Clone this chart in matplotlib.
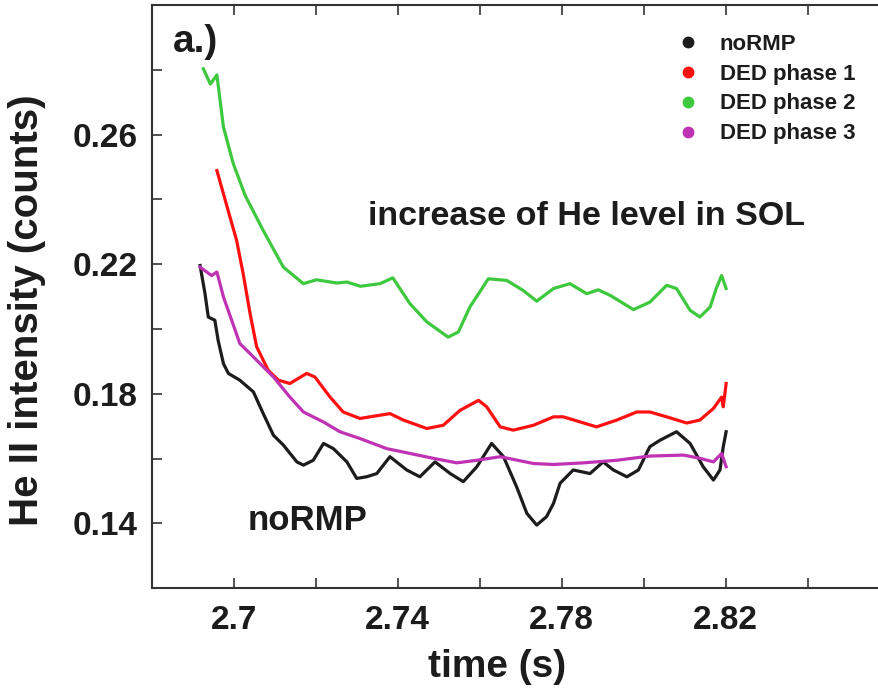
import matplotlib
matplotlib.use("Agg")
import matplotlib.pyplot as plt
from matplotlib.lines import Line2D

plt.rcParams['font.family'] = ['Liberation Sans', 'DejaVu Sans']
plt.rcParams['font.weight'] = 'bold'

# noRMP
t_normp = [2.6918, 2.6930, 2.6938, 2.6954, 2.6962, 2.6975, 2.6987, 2.7015, 2.7048, 2.7072,
           2.7097, 2.7121, 2.7154, 2.7170, 2.7194, 2.7219, 2.7243, 2.7276, 2.7300, 2.7324,
           2.7349, 2.7381, 2.7422, 2.7454, 2.7491, 2.7528, 2.7560, 2.7593, 2.7629, 2.7658,
           2.7690, 2.7715, 2.7739, 2.7763, 2.7780, 2.7796, 2.7828, 2.7869, 2.7901, 2.7926,
           2.7959, 2.7987, 2.8015, 2.8040, 2.8080, 2.8113, 2.8145, 2.8170, 2.8186, 2.8194,
           2.8201]
i_normp = [0.2196, 0.2109, 0.2037, 0.2027, 0.1965, 0.1893, 0.1863, 0.1842, 0.1806, 0.1739,
           0.1672, 0.1642, 0.1590, 0.1580, 0.1595, 0.1647, 0.1631, 0.1590, 0.1539, 0.1544,
           0.1554, 0.1606, 0.1565, 0.1544, 0.1590, 0.1554, 0.1529, 0.1575, 0.1647, 0.1606,
           0.1513, 0.1431, 0.1395, 0.1421, 0.1462, 0.1524, 0.1565, 0.1554, 0.1590, 0.1565,
           0.1544, 0.1565, 0.1637, 0.1657, 0.1683, 0.1647, 0.1575, 0.1534, 0.1565, 0.1637,
           0.1683]

# DED phase 1
t_ph1 = [2.6959, 2.6991, 2.7007, 2.7023, 2.7040, 2.7056, 2.7084, 2.7109, 2.7137, 2.7178,
         2.7198, 2.7235, 2.7267, 2.7308, 2.7381, 2.7414, 2.7471, 2.7511, 2.7552, 2.7597,
         2.7617, 2.7650, 2.7682, 2.7731, 2.7780, 2.7804, 2.7885, 2.7934, 2.7983, 2.8015,
         2.8056, 2.8105, 2.8137, 2.8170, 2.8190, 2.8194, 2.8201]
i_ph1 = [0.2489, 0.2345, 0.2274, 0.2171, 0.2047, 0.1945, 0.1873, 0.1842, 0.1832, 0.1863,
         0.1852, 0.1790, 0.1744, 0.1724, 0.1739, 0.1719, 0.1693, 0.1703, 0.1749, 0.1780,
         0.1760, 0.1698, 0.1688, 0.1703, 0.1729, 0.1729, 0.1698, 0.1719, 0.1744, 0.1744,
         0.1729, 0.1710, 0.1719, 0.1755, 0.1790, 0.1760, 0.1832]

# DED phase 2
t_ph2 = [2.6926, 2.6943, 2.6959, 2.6975, 2.6999, 2.7028, 2.7072, 2.7121, 2.7170, 2.7202,
         2.7251, 2.7276, 2.7309, 2.7357, 2.7388, 2.7430, 2.7471, 2.7523, 2.7548, 2.7576,
         2.7621, 2.7666, 2.7706, 2.7739, 2.7780, 2.7820, 2.7861, 2.7889, 2.7918, 2.7975,
         2.8015, 2.8056, 2.8080, 2.8113, 2.8137, 2.8162, 2.8178, 2.8190, 2.8201]
i_ph2 = [0.2803, 0.2756, 0.2784, 0.2623, 0.2510, 0.2412, 0.2304, 0.2191, 0.2140, 0.2152,
         0.2142, 0.2145, 0.2132, 0.2140, 0.2158, 0.2078, 0.2022, 0.1975, 0.1991, 0.2068,
         0.2155, 0.2150, 0.2119, 0.2086, 0.2125, 0.2140, 0.2109, 0.2121, 0.2104, 0.2060,
         0.2083, 0.2135, 0.2125, 0.2058, 0.2037, 0.2068, 0.2129, 0.2165, 0.2125]

# DED phase 3
t_ph3 = [2.6918, 2.6946, 2.6959, 2.6975, 2.7015, 2.7040, 2.7097, 2.7137, 2.7170, 2.7219,
         2.7259, 2.7308, 2.7373, 2.7430, 2.7487, 2.7544, 2.7593, 2.7650, 2.7731, 2.7780,
         2.7853, 2.7934, 2.8015, 2.8097, 2.8137, 2.8170, 2.8190, 2.8201]
i_ph3 = [0.2191, 0.2165, 0.2176, 0.2099, 0.1955, 0.1924, 0.1852, 0.1790, 0.1744, 0.1713,
         0.1683, 0.1662, 0.1631, 0.1616, 0.1601, 0.1587, 0.1595, 0.1606, 0.1585, 0.1582,
         0.1587, 0.1595, 0.1608, 0.1611, 0.1601, 0.1590, 0.1616, 0.1575]

labels = ["noRMP", "DED phase 1", "DED phase 2", "DED phase 3"]
colors = ["#1c1c1c", "#ff1010", "#3ec83e", "#c032b4"]

fig = plt.figure(figsize=(8.79, 6.92), dpi=100)
ax = fig.add_axes([0.1726, 0.1499, 0.8396, 0.8429])

for t, i, c in zip([t_normp, t_ph1, t_ph2, t_ph3], [i_normp, i_ph1, i_ph2, i_ph3], colors):
    ax.plot(t, i, color=c, lw=2.3, solid_joinstyle='round')

ax.set_xlim(2.68, 2.86)
ax.set_ylim(0.12, 0.30)

ax.set_xticks([2.70, 2.74, 2.78, 2.82])
ax.set_xticklabels(["2.7", "2.74", "2.78", "2.82"])
ax.set_xticks([2.72, 2.76, 2.80, 2.84], minor=True)
ax.set_yticks([0.14, 0.18, 0.22, 0.26])
ax.set_yticklabels(["0.14", "0.18", "0.22", "0.26"])
ax.set_yticks([0.16, 0.20, 0.24, 0.28], minor=True)

ax.tick_params(which='both', direction='in', length=7, width=1.2, color='#333333',
               top=True, right=True, labelsize=24, labelcolor='#1c1c1c')
ax.tick_params(axis='x', which='major', pad=12)
ax.tick_params(axis='y', which='major', pad=10)
for s in ax.spines.values():
    s.set_linewidth(1.5)
    s.set_color('#333333')

fig.text(0.565, 0.036, "time (s)", ha='center', va='center', fontsize=28, color='#1c1c1c')
fig.text(0.031, 0.552, "He II intensity (counts)", ha='center', va='center',
         rotation=90, fontsize=29, color='#1c1c1c')

ax.text(2.6852, 0.2854, "a.)", fontsize=28, color='#1c1c1c')
ax.text(2.7328, 0.2320, "increase of He level in SOL", fontsize=24.5, color='#1c1c1c')
ax.text(2.7033, 0.1380, "noRMP", fontsize=25, color='#1c1c1c')

handles = [Line2D([], [], ls='none', marker='o', ms=7.5, color=c) for c in colors]
ax.legend(handles, labels, loc='upper left', bbox_to_anchor=(0.699, 0.966),
          frameon=False, fontsize=16, handletextpad=0.95, labelspacing=0.40,
          borderaxespad=0, handlelength=1.0, labelcolor='#1c1c1c')

fig.savefig("out.png", dpi=100)
